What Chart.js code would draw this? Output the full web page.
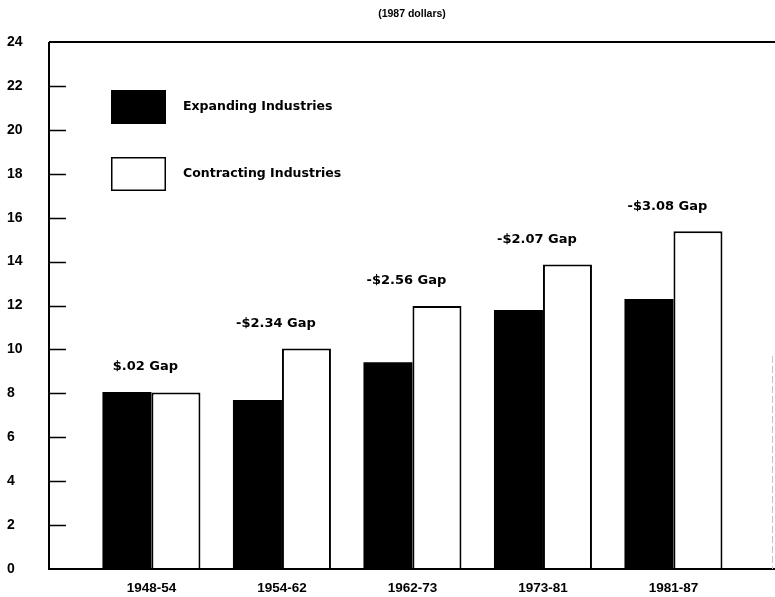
<!DOCTYPE html>
<html>
<head>
<meta charset="utf-8">
<script src="https://cdn.jsdelivr.net/npm/chart.js@4/dist/chart.umd.min.js"></script>
<style>
  html, body { margin: 0; padding: 0; background: #fff; }
  #wrap { width: 775px; height: 597px; }
</style>
</head>
<body>
<div id="wrap"><canvas id="c" width="775" height="597"></canvas></div>
<script>
// Average hourly wages, 1987 dollars
const categories = ['1948-54', '1954-62', '1962-73', '1973-81', '1981-87'];
const expanding = [8.06, 7.70, 9.42, 11.80, 12.30];
const contracting = [8.04, 10.04, 11.98, 13.87, 15.38];
const gapLabels = ['$.02 Gap', '-$2.34 Gap', '-$2.56 Gap', '-$2.07 Gap', '-$3.08 Gap'];
const seriesNames = ['Expanding Industries', 'Contracting Industries'];
const yMin = 0, yMax = 24, yStep = 2;
const titleText = '(1987 dollars)';

const FONT = '"DejaVu Sans", Verdana, sans-serif';
const FONT_NARROW = '"Liberation Sans", Arial, Helvetica, sans-serif';

const framePlugin = {
  id: 'frame',
  afterDatasetsDraw(chart) {
    const { ctx, chartArea: a, scales } = chart;
    const y = scales.y, x = scales.x;
    ctx.save();
    ctx.strokeStyle = '#000';
    ctx.lineWidth = 2;
    // axis frame: left, top, bottom
    ctx.beginPath();
    ctx.moveTo(a.left, a.top);
    ctx.lineTo(a.right, a.top);
    ctx.moveTo(a.left, a.top);
    ctx.lineTo(a.left, a.bottom);
    ctx.lineTo(a.right, a.bottom);
    ctx.stroke();
    // inward tick marks
    ctx.lineWidth = 1.6;
    ctx.beginPath();
    for (let v = yMin + yStep; v < yMax; v += yStep) {
      const py = Math.round(y.getPixelForValue(v)) + 0.5;
      ctx.moveTo(a.left, py);
      ctx.lineTo(a.left + 17, py);
    }
    ctx.stroke();
    // faint right edge
    ctx.strokeStyle = '#c4c4c4';
    ctx.lineWidth = 1;
    ctx.setLineDash([7, 3]);
    ctx.beginPath();
    ctx.moveTo(a.right - 2.5, y.getPixelForValue(9.7));
    ctx.lineTo(a.right - 2.5, a.bottom);
    ctx.stroke();
    ctx.setLineDash([]);

    // title
    ctx.fillStyle = '#000';
    ctx.font = 'bold 10.5px ' + FONT_NARROW;
    ctx.textAlign = 'center';
    ctx.textBaseline = 'middle';
    ctx.fillText(titleText, (a.left + a.right) / 2, 14);

    // gap labels above each pair of bars
    ctx.font = 'bold 13px ' + FONT;
    categories.forEach((c, i) => {
      const top = y.getPixelForValue(Math.max(expanding[i], contracting[i]));
      ctx.fillText(gapLabels[i], x.getPixelForValue(i) - 6, top - 25);
    });

    // legend
    const lx = a.left + 62, bw = 55, bh = 34;
    const ly1 = a.top + 48, ly2 = a.top + 115;
    ctx.fillStyle = '#000';
    ctx.fillRect(lx, ly1, bw, bh);
    ctx.fillStyle = '#fff';
    ctx.fillRect(lx, ly2, bw, bh);
    ctx.strokeStyle = '#000';
    ctx.lineWidth = 1.5;
    ctx.strokeRect(lx + 0.75, ly2 + 0.75, bw - 1.5, bh - 1.5);
    ctx.fillStyle = '#000';
    ctx.font = 'bold 12.5px ' + FONT;
    ctx.textAlign = 'left';
    ctx.fillText(seriesNames[0], lx + 72, ly1 + bh / 2);
    ctx.fillText(seriesNames[1], lx + 72, ly2 + bh / 2);
    ctx.restore();
  }
};

new Chart(document.getElementById('c'), {
  type: 'bar',
  data: {
    datasets: [
      {
        label: seriesNames[0],
        data: expanding.map((v, i) => ({ x: i, y: v })),
        backgroundColor: '#000',
        borderWidth: 0
      },
      {
        label: seriesNames[1],
        data: contracting.map((v, i) => ({ x: i, y: v })),
        backgroundColor: '#fff',
        borderColor: '#000',
        borderWidth: 2,
        borderSkipped: 'bottom'
      }
    ]
  },
  options: {
    responsive: false,
    animation: false,
    events: [],
    categoryPercentage: 0.751,
    barPercentage: 1.0,
    layout: { padding: { left: 7, right: 0, top: 42, bottom: 0 } },
    plugins: {
      legend: { display: false },
      title: { display: false },
      tooltip: { enabled: false }
    },
    scales: {
      x: {
        type: 'linear',
        offset: false,
        min: -0.785,
        max: 4.778,
        grid: { display: false, drawTicks: false },
        border: { display: false },
        afterBuildTicks: s => { s.ticks = categories.map((_, i) => ({ value: i })); },
        afterFit: s => { s.height = 28; },
        ticks: {
          autoSkip: false,
          maxRotation: 0,
          padding: 11,
          color: '#000',
          font: { family: FONT_NARROW, size: 13.5, weight: 'bold' },
          callback: v => categories[v] ?? ''
        }
      },
      y: {
        min: yMin,
        max: yMax,
        grid: { display: false, drawTicks: false },
        border: { display: false },
        afterFit: s => { s.width = 42; },
        ticks: {
          stepSize: yStep,
          crossAlign: 'far',
          color: '#000',
          font: { family: FONT_NARROW, size: 14, weight: 'bold' }
        }
      }
    }
  },
  plugins: [framePlugin]
});
</script>
</body>
</html>
